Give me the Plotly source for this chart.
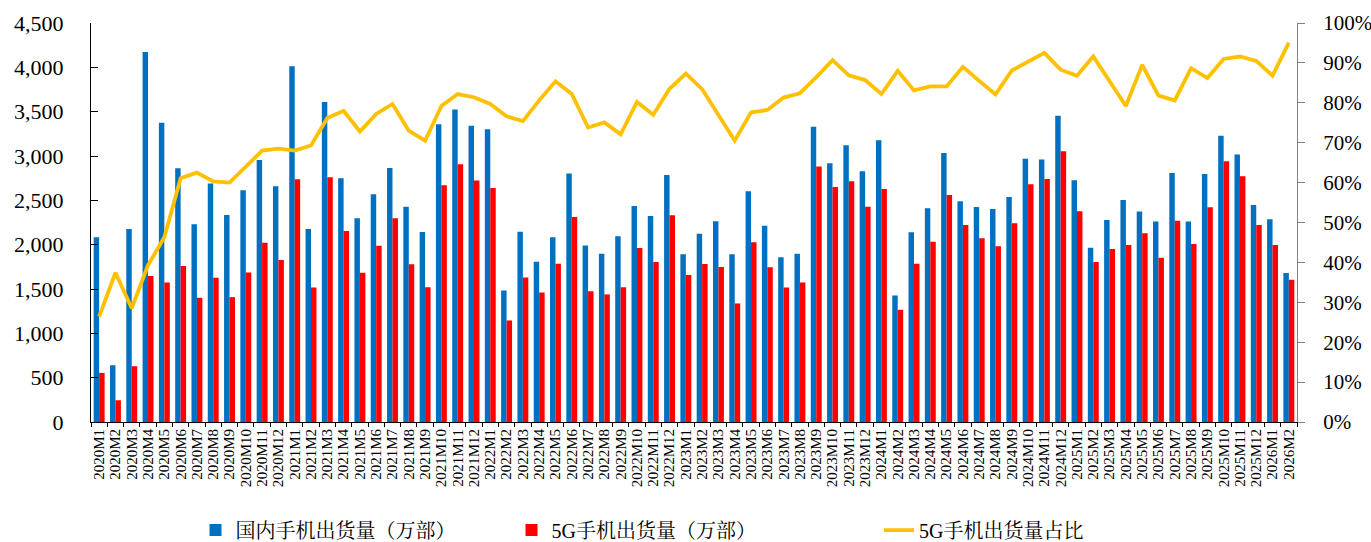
import plotly.graph_objects as go

months = [
    "2020M1", "2020M2", "2020M3", "2020M4", "2020M5", "2020M6", "2020M7", "2020M8", "2020M9", "2020M10", "2020M11", "2020M12",
    "2021M1", "2021M2", "2021M3", "2021M4", "2021M5", "2021M6", "2021M7", "2021M8", "2021M9", "2021M10", "2021M11", "2021M12",
    "2022M1", "2022M2", "2022M3", "2022M4", "2022M5", "2022M6", "2022M7", "2022M8", "2022M9", "2022M10", "2022M11", "2022M12",
    "2023M1", "2023M2", "2023M3", "2023M4", "2023M5", "2023M6", "2023M7", "2023M8", "2023M9", "2023M10", "2023M11", "2023M12",
    "2024M1", "2024M2", "2024M3", "2024M4", "2024M5", "2024M6", "2024M7", "2024M8", "2024M9", "2024M10", "2024M11", "2024M12",
    "2025M1", "2025M2", "2025M3", "2025M4", "2025M5", "2025M6", "2025M7", "2025M8", "2025M9", "2025M10", "2025M11", "2025M12",
    "2026M1", "2026M2",
]

domestic = [
    2083, 640, 2177, 4173, 3374, 2862, 2229, 2690, 2335, 2614, 2956, 2659,
    4011, 2177, 3608, 2749, 2297, 2568, 2866, 2429, 2143, 3359, 3525, 3340,
    3303, 1484, 2147, 1808, 2083, 2802, 1992, 1898, 2094, 2437, 2324, 2787,
    1891, 2124, 2263, 1891, 2602, 2214, 1857, 1898, 3329, 2919, 3122, 2828,
    3179, 1427, 2139, 2410, 3035, 2489, 2425, 2403, 2538, 2968, 2960, 3453,
    2727, 1966, 2278, 2504, 2373, 2260, 2809, 2260, 2798, 3228, 3017, 2448,
    2286, 1680,
]

shipments_5g = [
    554, 245, 629, 1646, 1574, 1759, 1401, 1627, 1408, 1687, 2022, 1827,
    2738, 1518, 2761, 2154, 1683, 1988, 2297, 1778, 1521, 2670, 2907, 2723,
    2640, 1145, 1631, 1461, 1785, 2312, 1476, 1439, 1521, 1962, 1804, 2331,
    1657, 1781, 1747, 1337, 2026, 1744, 1518, 1574, 2881, 2651, 2715, 2429,
    2629, 1265, 1785, 2034, 2561, 2222, 2071, 1981, 2241, 2681, 2742, 3054,
    2376, 1804, 1951, 1996, 2128, 1853, 2271, 2007, 2422, 2941, 2772, 2222,
    1996, 1604,
]

share_5g = [
    26.4, 37.4, 28.5, 39.3, 46.3, 61.1, 62.5, 60.3, 60.0, 64.0, 68.0, 68.5,
    68.0, 69.3, 76.2, 78.0, 72.8, 77.2, 79.7, 73.0, 70.5, 79.2, 82.2, 81.4,
    79.7, 76.6, 75.4, 80.6, 85.4, 82.2, 73.8, 75.1, 72.1, 80.2, 77.0, 83.5,
    87.3, 83.4, 77.0, 70.5, 77.6, 78.2, 81.3, 82.4, 86.4, 90.7, 86.9, 85.7,
    82.2, 88.0, 83.1, 84.1, 84.1, 89.0, 85.5, 82.1, 88.1, 90.2, 92.5, 88.3,
    86.8, 91.6, 85.5, 79.2, 89.5, 81.8, 80.6, 88.7, 86.2, 91.0, 91.6, 90.5,
    86.8, 95.1,
]

names = ["国内手机出货量（万部）", "5G手机出货量（万部）", "5G手机出货量占比"]
colors = ["#0070C0", "#FF0000", "#FFC000"]

SERIF = "Liberation Serif, Times New Roman, Noto Serif CJK SC, Noto Sans CJK SC, serif"

fig = go.Figure()
fig.add_trace(go.Bar(x=months, y=domestic, name=names[0], marker=dict(color=colors[0], line=dict(width=0)),
                     legend="legend"))
fig.add_trace(go.Bar(x=months, y=shipments_5g, name=names[1], marker=dict(color=colors[1], line=dict(width=0)),
                     legend="legend2"))
fig.add_trace(go.Scatter(x=months, y=share_5g, name=names[2], mode="lines", yaxis="y2",
                         line=dict(color=colors[2], width=3.8), legend="legend3"))

legend_common = dict(orientation="h", xref="container", yref="container", yanchor="middle", y=0.022,
                     xanchor="left", font=dict(family=SERIF, size=20, color="black"),
                     bgcolor="rgba(0,0,0,0)")

fig.update_layout(
    width=1371, height=542,
    margin=dict(l=91, r=74, t=23, b=120, autoexpand=False),
    paper_bgcolor="white", plot_bgcolor="white",
    font=dict(family=SERIF, color="black"),
    barmode="group", bargap=0.33, bargroupgap=0,
    showlegend=True,
    legend=dict(x=0.1426, **legend_common),
    legend2=dict(x=0.3731, **legend_common),
    legend3=dict(x=0.6411, **legend_common),
    xaxis=dict(type="category", tickangle=-90, dtick=1, automargin=False,
               tickfont=dict(family=SERIF, size=15, color="black"),
               showline=True, linecolor="black", linewidth=1, ticks="outside", tickson="boundaries",
               ticklen=4, tickcolor="black", showgrid=False, zeroline=False),
    yaxis=dict(range=[0, 4500], dtick=500, tickformat=",", ticks="inside", ticklen=7, tickcolor="black",
               showline=True, linecolor="black", linewidth=1, showgrid=False, zeroline=False,
               automargin=False,
               tickfont=dict(family=SERIF, size=22, color="black"), ticklabelstandoff=22),
    yaxis2=dict(range=[0, 100], dtick=10, ticksuffix="%", overlaying="y", side="right",
                ticks="outside", ticklen=7, tickcolor="#808080", showline=True, linecolor="#808080",
                linewidth=1, showgrid=False, zeroline=False, automargin=False,
                tickfont=dict(family=SERIF, size=21, color="black"), ticklabelstandoff=14),
)

fig.write_html("out.html", config={"displayModeBar": False},
               post_script="document.body.style.margin='0';document.body.style.padding='0';")
